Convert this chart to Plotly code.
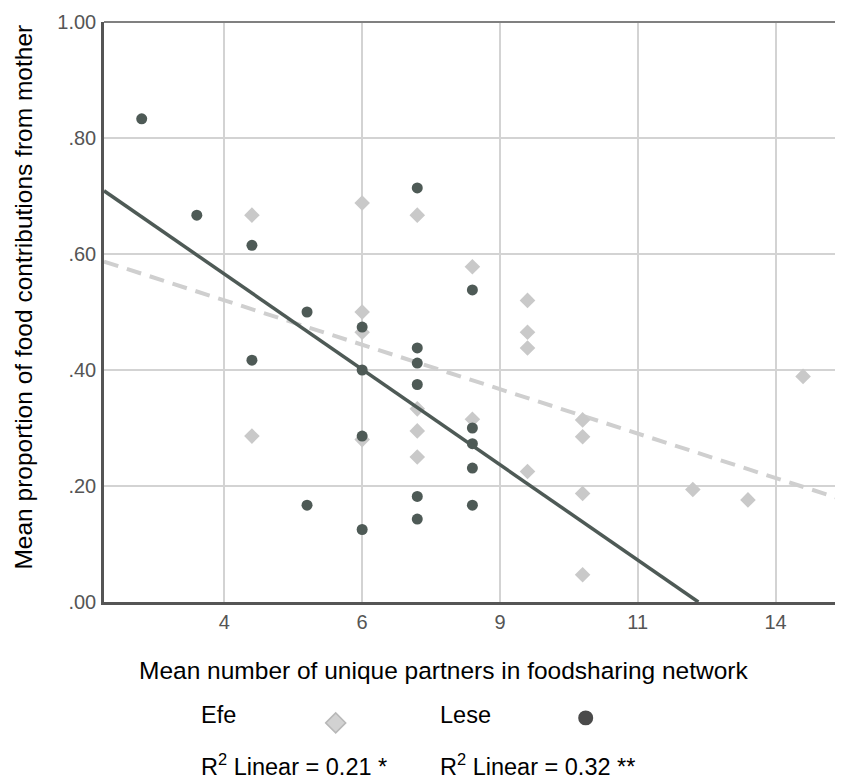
import plotly.graph_objects as go

# ---- data ----
efe_x = [4, 4, 6, 6, 6, 6, 7, 7, 7, 7, 8, 8, 9, 9, 9, 9, 10, 10, 10, 10, 12, 13, 14]
efe_y = [0.667, 0.286, 0.688, 0.500, 0.465, 0.280, 0.667, 0.333, 0.295, 0.250,
         0.578, 0.315, 0.520, 0.465, 0.438, 0.225, 0.314, 0.285, 0.187, 0.047,
         0.194, 0.176, 0.389]

lese_x = [2, 3, 4, 4, 5, 5, 6, 6, 6, 6, 7, 7, 7, 7, 7, 7, 8, 8, 8, 8, 8]
lese_y = [0.833, 0.667, 0.615, 0.417, 0.500, 0.167, 0.474, 0.400, 0.286, 0.125,
          0.714, 0.438, 0.412, 0.375, 0.182, 0.143, 0.538, 0.300, 0.273, 0.231, 0.167]

# fit lines (endpoints)
efe_fit_x = [1.316, 14.67]
efe_fit_y = [0.587, 0.178]
lese_fit_x = [1.316, 12.1]
lese_fit_y = [0.709, 0.0]

x_tickvals = [3.5, 6, 8.5, 11, 13.5]
x_ticktext = ["4", "6", "9", "11", "14"]
y_tickvals = [0, 0.2, 0.4, 0.6, 0.8, 1.0]
y_ticktext = [".00", ".20", ".40", ".60", ".80", "1.00"]

x_title = "Mean number of unique partners in foodsharing network"
y_title = "Mean proportion of food contributions from mother"
efe_label = "Efe"
lese_label = "Lese"
efe_r2 = "R<sup>2</sup> Linear = 0.21 *"
lese_r2 = "R<sup>2</sup> Linear = 0.32 **"

FONT = "Liberation Sans, Arial, sans-serif"
LESE_COL = "#4e5a56"
EFE_COL = "#c9c9c9"
EFE_LINE = "#cfcfcf"

fig = go.Figure()

fig.add_trace(go.Scatter(
    x=efe_fit_x, y=efe_fit_y, mode="lines",
    line=dict(color=EFE_LINE, width=4, dash="15px,9px"),
    hoverinfo="skip", showlegend=False))

fig.add_trace(go.Scatter(
    x=efe_x, y=efe_y, mode="markers", name=efe_label,
    marker=dict(symbol="diamond", size=12, color=EFE_COL, line=dict(width=0)),
    showlegend=False))

fig.add_trace(go.Scatter(
    x=lese_x, y=lese_y, mode="markers", name=lese_label,
    marker=dict(symbol="circle", size=11, color=LESE_COL, line=dict(width=0)),
    showlegend=False))

fig.add_trace(go.Scatter(
    x=lese_fit_x, y=lese_fit_y, mode="lines",
    line=dict(color=LESE_COL, width=3.5),
    hoverinfo="skip", showlegend=False))

# page body adds an 8px offset; layout below is in reference-window pixels
OFF = 8
W, H = 843 - OFF, 780 - OFF
L, T = 104 - OFF, 20 - OFF
plot_right, plot_bottom = 840 - OFF, 602 - OFF
R, B = W - plot_right, H - plot_bottom
pw, ph = plot_right - L, plot_bottom - T

def px(xp):
    return (xp - OFF - L) / pw

def py(yp):
    return (plot_bottom - (yp - OFF)) / ph

fig.update_layout(
    width=W, height=H,
    margin=dict(l=L, r=R, t=T, b=B),
    paper_bgcolor="white", plot_bgcolor="white",
    font=dict(family=FONT, color="#000"),
    showlegend=False,
    xaxis=dict(
        range=[1.316, 14.67], tickvals=x_tickvals, ticktext=x_ticktext,
        showgrid=True, gridcolor="#d3d3d3", gridwidth=1.5,
        zeroline=False, showline=True, linecolor="#555", linewidth=2.5,
        ticks="", tickfont=dict(size=20, color="#555", family=FONT),
        ticklabelstandoff=0,
    ),
    yaxis=dict(
        range=[0, 1], tickvals=y_tickvals, ticktext=y_ticktext,
        showgrid=True, gridcolor="#d3d3d3", gridwidth=1.5,
        zeroline=False, showline=True, linecolor="#555", linewidth=2.5,
        ticks="", tickfont=dict(size=20, color="#555", family=FONT),
        ticklabelstandoff=1,
    ),
)

# top / right border
fig.add_shape(type="line", xref="paper", yref="paper", x0=0, x1=1, y0=1, y1=1,
              line=dict(color="#808080", width=2))
fig.add_shape(type="line", xref="paper", yref="paper", x0=1, x1=1, y0=0, y1=1,
              line=dict(color="#808080", width=2))

# axis titles
fig.add_annotation(text=x_title, xref="paper", yref="paper",
                   x=px(443.5), y=py(671), xanchor="center", yanchor="middle",
                   showarrow=False, font=dict(size=24.5, color="#000", family=FONT))
fig.add_annotation(text=y_title, xref="paper", yref="paper",
                   x=px(24), y=py(296.5), xanchor="center", yanchor="middle",
                   textangle=-90, showarrow=False,
                   font=dict(size=24.5, color="#000", family=FONT))

# custom legend
for txt, xx, yy in [(efe_label, 199, 715), (lese_label, 438, 715),
                    (efe_r2, 199, 766), (lese_r2, 438, 766)]:
    fig.add_annotation(text=txt, xref="paper", yref="paper",
                       x=px(xx), y=py(yy), xanchor="left", yanchor="middle",
                       showarrow=False, font=dict(size=23.5, color="#000", family=FONT))

# legend symbols
dcx, dcy, dr = 335.7, 723.3, 10
fig.add_shape(type="path", xref="paper", yref="paper",
              path=(f"M {px(dcx-dr)} {py(dcy)} L {px(dcx)} {py(dcy-dr)} "
                    f"L {px(dcx+dr)} {py(dcy)} L {px(dcx)} {py(dcy+dr)} Z"),
              fillcolor="#d2d2d2", line=dict(color="#b8b8b8", width=1.5))
ccx, ccy, cr = 585.7, 718.3, 7.5
fig.add_shape(type="circle", xref="paper", yref="paper",
              x0=px(ccx-cr), x1=px(ccx+cr), y0=py(ccy+cr), y1=py(ccy-cr),
              fillcolor="#4a4a4a", line=dict(color="#4a4a4a", width=0))

fig.write_html("out.html")
